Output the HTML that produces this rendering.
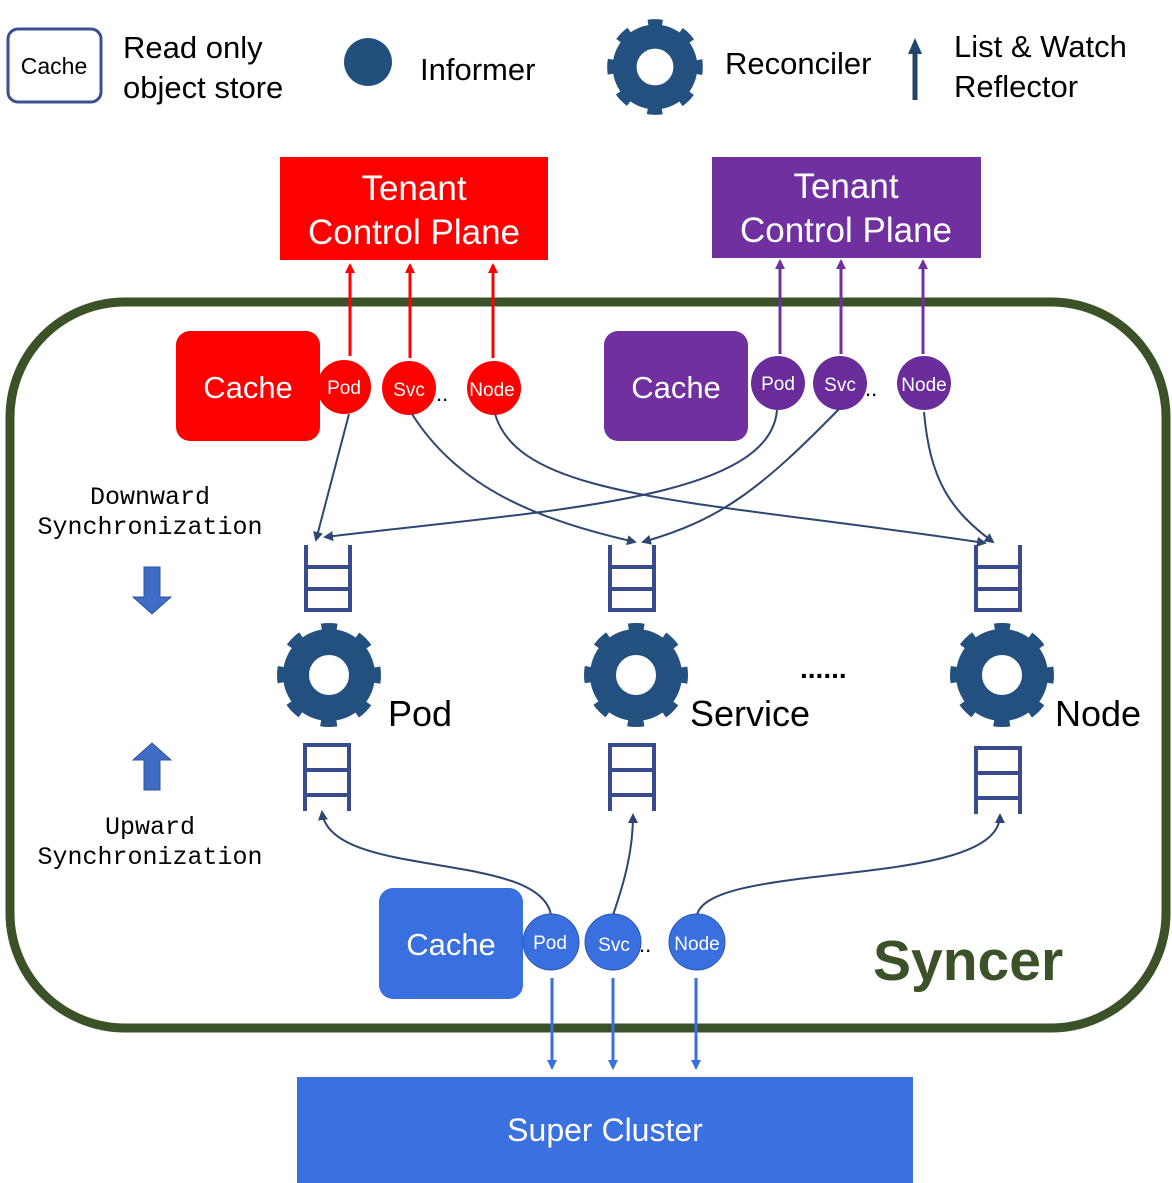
<!DOCTYPE html>
<html><head><meta charset="utf-8"><style>
html,body{margin:0;padding:0;background:#fff;}
svg{display:block;}
text{font-family:"Liberation Sans",sans-serif;}
.mono{font-family:"Liberation Mono",monospace;}
</style></head><body>
<svg width="1172" height="1183" viewBox="0 0 1172 1183" xmlns="http://www.w3.org/2000/svg">
<defs>
<g id="gear">
<circle r="33" fill="none" stroke="#24507f" stroke-width="26"/>
<circle r="45" fill="none" stroke="#24507f" stroke-width="14" stroke-dasharray="15 20.34" stroke-dashoffset="7.5" transform="rotate(-90)"/>
</g>
<marker id="ah" markerWidth="10" markerHeight="10" refX="8" refY="5" orient="auto" markerUnits="userSpaceOnUse" viewBox="0 0 10 10"><path d="M0,0 L10,5 L0,10 z" fill="#2e4670"/></marker>
<marker id="ahr" markerWidth="10" markerHeight="10" refX="8" refY="5" orient="auto" markerUnits="userSpaceOnUse" viewBox="0 0 10 10"><path d="M0,0 L10,5 L0,10 z" fill="#f00"/></marker>
<marker id="ahp" markerWidth="10" markerHeight="10" refX="8" refY="5" orient="auto" markerUnits="userSpaceOnUse" viewBox="0 0 10 10"><path d="M0,0 L10,5 L0,10 z" fill="#7030a0"/></marker>
<marker id="ahb" markerWidth="10" markerHeight="10" refX="8" refY="5" orient="auto" markerUnits="userSpaceOnUse" viewBox="0 0 10 10"><path d="M0,0 L10,5 L0,10 z" fill="#3a6fe0"/></marker>
<g id="qd" fill="none" stroke="#3a4a8f" stroke-width="4"><path d="M-22,0 V65 H22 V0 M-22,22 H22 M-22,44 H22"/></g>
<g id="qu" fill="none" stroke="#3a4a8f" stroke-width="4"><path d="M-22,66 V0 H22 V66 M-22,25 H22 M-22,50 H22"/></g>
</defs>

<rect x="8" y="29" width="93" height="73" rx="10" fill="#fff" stroke="#3b4f90" stroke-width="3"/>
<text x="54" y="74" font-size="23" text-anchor="middle">Cache</text>
<text x="123" y="58" font-size="31">Read only</text>
<text x="123" y="98" font-size="31">object store</text>
<circle cx="368" cy="62" r="24" fill="#22507c"/>
<text x="420" y="80" font-size="31">Informer</text>
<use href="#gear" transform="translate(655,67) scale(0.92)"/>
<text x="725" y="74" font-size="31">Reconciler</text>
<line x1="915" y1="100" x2="915" y2="52" stroke="#22456e" stroke-width="5"/>
<path d="M908,54 L915,38 L922,54 z" fill="#22456e"/>
<text x="954" y="57" font-size="31">List &amp; Watch</text>
<text x="954" y="97" font-size="31">Reflector</text>

<rect x="280" y="157" width="268" height="103" fill="#f00"/>
<text x="414" y="200" font-size="35" fill="#fff" text-anchor="middle">Tenant</text>
<text x="414" y="244" font-size="35" fill="#fff" text-anchor="middle">Control Plane</text>
<rect x="712" y="157" width="269" height="101" fill="#7030a0"/>
<text x="846" y="198" font-size="35" fill="#fff" text-anchor="middle">Tenant</text>
<text x="846" y="242" font-size="35" fill="#fff" text-anchor="middle">Control Plane</text>

<rect x="10" y="302" width="1156" height="726" rx="115" fill="none" stroke="#3b5228" stroke-width="9"/>

<g stroke="#f00" stroke-width="3" marker-end="url(#ahr)">
<line x1="350" y1="356" x2="350" y2="265"/>
<line x1="410" y1="358" x2="410" y2="265"/>
<line x1="493" y1="358" x2="493" y2="265"/>
</g>
<g stroke="#7030a0" stroke-width="3" marker-end="url(#ahp)">
<line x1="780" y1="354" x2="780" y2="261"/>
<line x1="841" y1="354" x2="841" y2="261"/>
<line x1="923" y1="354" x2="923" y2="261"/>
</g>

<rect x="176" y="331" width="144" height="110" rx="14" fill="#f00"/>
<text x="248" y="398" font-size="31" fill="#fff" text-anchor="middle">Cache</text>
<circle cx="344" cy="387" r="27" fill="#f00"/>
<circle cx="409" cy="388" r="27" fill="#f00"/>
<circle cx="494" cy="388" r="27" fill="#f00"/>
<text x="344" y="394" font-size="19" fill="#fff" text-anchor="middle">Pod</text>
<text x="409" y="396" font-size="19" fill="#fff" text-anchor="middle">Svc</text>
<text x="492" y="396" font-size="19" fill="#fff" text-anchor="middle">Node</text>
<text x="436" y="401" font-size="22">..</text>

<rect x="604" y="331" width="144" height="110" rx="14" fill="#7030a0"/>
<text x="676" y="398" font-size="31" fill="#fff" text-anchor="middle">Cache</text>
<circle cx="778" cy="383" r="27" fill="#6a2c9a"/>
<circle cx="840" cy="383" r="27" fill="#6a2c9a"/>
<circle cx="924" cy="383" r="27" fill="#6a2c9a"/>
<text x="778" y="390" font-size="19" fill="#fff" text-anchor="middle">Pod</text>
<text x="840" y="391" font-size="19" fill="#fff" text-anchor="middle">Svc</text>
<text x="924" y="391" font-size="19" fill="#fff" text-anchor="middle">Node</text>
<text x="865" y="396" font-size="22">..</text>

<g fill="none" stroke="#2e4670" stroke-width="2" marker-end="url(#ah)">
<path d="M349,414 L316,540"/>
<path d="M412,414 C460,490 540,520 635,542"/>
<path d="M495,414 C520,500 700,500 985,543"/>
<path d="M777,410 C770,500 550,510 325,537"/>
<path d="M840,408 C760,490 720,520 643,542"/>
<path d="M924,412 C930,480 950,510 993,542"/>
</g>

<text x="150" y="504" font-size="25" class="mono" text-anchor="middle">Downward</text>
<text x="150" y="534" font-size="25" class="mono" text-anchor="middle">Synchronization</text>
<path d="M144,567 H160 V597 H171 L152,614 L133,597 H144 z" fill="#3f6cc4" stroke="#2e53a0" stroke-width="1"/>
<path d="M144,790 H160 V760 H171 L152,743 L133,760 H144 z" fill="#3f6cc4" stroke="#2e53a0" stroke-width="1"/>
<text x="150" y="834" font-size="25" class="mono" text-anchor="middle">Upward</text>
<text x="150" y="864" font-size="25" class="mono" text-anchor="middle">Synchronization</text>

<use href="#qd" x="328" y="545"/>
<use href="#qd" x="632" y="545"/>
<use href="#qd" x="998" y="545"/>
<use href="#qu" x="327" y="745"/>
<use href="#qu" x="632" y="745"/>
<use href="#qu" x="998" y="748"/>

<use href="#gear" transform="translate(329,675)"/>
<use href="#gear" transform="translate(636,675)"/>
<use href="#gear" transform="translate(1002,675)"/>
<text x="388" y="726" font-size="36">Pod</text>
<text x="690" y="726" font-size="36">Service</text>
<text x="1055" y="726" font-size="36">Node</text>
<text x="800" y="678" font-size="28" font-weight="bold">......</text>

<g fill="none" stroke="#2e4670" stroke-width="2" marker-end="url(#ah)">
<path d="M551,915 C540,850 330,880 322,812"/>
<path d="M613,915 C625,880 633,850 633,815"/>
<path d="M697,915 C710,860 1000,890 1000,815"/>
</g>

<rect x="379" y="888" width="144" height="111" rx="14" fill="#3a6fe0"/>
<text x="451" y="955" font-size="31" fill="#fff" text-anchor="middle">Cache</text>
<circle cx="551" cy="942" r="28" fill="#3a6fe0" stroke="#2c56b0" stroke-width="1"/>
<circle cx="613" cy="942" r="28" fill="#3a6fe0" stroke="#2c56b0" stroke-width="1"/>
<circle cx="697" cy="942" r="28" fill="#3a6fe0" stroke="#2c56b0" stroke-width="1"/>
<text x="550" y="949" font-size="19" fill="#fff" text-anchor="middle">Pod</text>
<text x="614" y="951" font-size="19" fill="#fff" text-anchor="middle">Svc</text>
<text x="697" y="950" font-size="19" fill="#fff" text-anchor="middle">Node</text>
<text x="639" y="952" font-size="22">..</text>
<text x="873" y="980" font-size="57" font-weight="bold" fill="#3b5228">Syncer</text>

<g stroke="#3a6fe0" stroke-width="3" marker-end="url(#ahb)">
<line x1="552" y1="978" x2="552" y2="1068"/>
<line x1="613" y1="978" x2="613" y2="1068"/>
<line x1="696" y1="978" x2="696" y2="1068"/>
</g>

<rect x="297" y="1077" width="616" height="106" fill="#3a70e0"/>
<text x="605" y="1141" font-size="32" fill="#fff" text-anchor="middle">Super Cluster</text>
</svg>
</body></html>
